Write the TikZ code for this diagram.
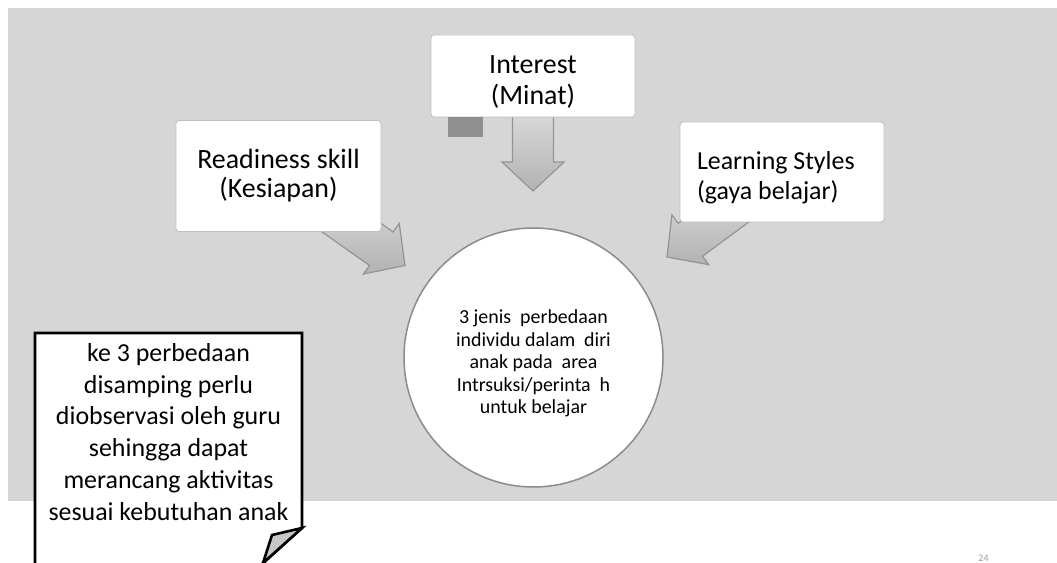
\documentclass[tikz,border=0pt]{standalone}
\usepackage{fontspec}
\setmainfont{Carlito}
\usetikzlibrary{calc,backgrounds}
\definecolor{slidegray}{RGB}{214,214,214}
\definecolor{markgray}{RGB}{143,143,143}

\tikzset{
  topic/.style={draw=black!25, line width=0.8bp, fill=white, rounded corners=3bp, inner sep=0pt, align=center},
  arrowfill/.style={draw=black!42, line width=1.2bp, top color=black!8, bottom color=black!30},
  hub/.style={circle, draw=black!45, line width=1.5bp, fill=white, minimum size=259bp, inner sep=0pt},
  noteline/.style={draw=black, line width=2.6bp, line join=miter},
}

% block arrow from #1 to the tip #2
\newcommand{\feedarrow}[2]{%
  \coordinate (neck) at ($(#2)!29bp!(#1)$);
  \draw[arrowfill] ($(#1)!20.5bp!90:(#2)$) -- ($(neck)!20.5bp!90:(#2)$)
    -- ($(neck)!31bp!90:(#2)$) -- (#2) -- ($(neck)!31bp!-90:(#2)$)
    -- ($(neck)!20.5bp!-90:(#2)$) -- ($(#1)!20.5bp!-90:(#2)$) -- cycle;}

\begin{document}
\begin{tikzpicture}[line join=bevel]
\useasboundingbox (0bp,0bp) rectangle (1057bp,563bp);
\clip (0bp,0bp) rectangle (1057bp,563bp);
%%
\node (interest) at (533bp,487bp) [topic, minimum width=204bp, minimum height=82bp] {};
  \node (interestlabel) at (533bp,481bp) [align=center, font=\fontsize{28}{32}\selectfont] {Interest\\(Minat)};
  \node (readiness) at (278.5bp,387bp) [topic, minimum width=205bp, minimum height=111bp, font=\fontsize{28}{29}\selectfont] {Readiness skill\\(Kesiapan)};
  \node (styles) at (782bp,391bp) [topic, minimum width=204bp, minimum height=100bp] {};
  \node (styleslabel) at (782bp,385bp) [text width=170bp, align=flush left, font=\fontsize{26}{30}\selectfont] {Learning Styles\\(gaya belajar)};
  \node (interestmark) at (465.5bp,436bp) [fill=markgray, minimum width=35bp, minimum height=20bp, inner sep=0pt] {};
  \node (hub) at (533.5bp,205.5bp) [hub] {};
  \node (hublabel) at (533.5bp,199.5bp) [align=center, font=\fontsize{20}{22.5}\selectfont] {3 jenis\ \ perbedaan\\individu dalam\ \ diri\\anak pada\ \ area\\Intrsuksi/perinta\ \ h\\untuk belajar};
  \coordinate (interesttip) at (533bp,372bp);
  \coordinate (readinesstip) at (405bp,297.5bp);
  \coordinate (stylestip) at (667bp,306bp);
\begin{scope}[on background layer]
  \fill[slidegray] (8bp,62bp) rectangle (1057bp,555bp);
  \feedarrow{interest.center}{interesttip}
  \feedarrow{readiness.center}{readinesstip}
  \feedarrow{styles.center}{stylestip}
\end{scope}
%
\draw[noteline, fill=white] (261bp,-2bp) -- (302bp,35bp) -- (302bp,230bp) -- (35bp,230bp) -- (35bp,-2bp);
  \filldraw[noteline, fill=black!22] (302bp,35bp) -- (272bp,28bp) -- (263bp,0bp) -- cycle;
  \node (note) at (168.5bp,131bp) [align=center, font=\fontsize{26}{32}\selectfont] {ke 3 perbedaan\\disamping perlu\\diobservasi oleh guru\\sehingga dapat\\merancang aktivitas\\sesuai kebutuhan anak};
  \node (pagenum) at (983.5bp,1.5bp) [anchor=base, inner sep=0pt, text=black!40, font=\fontsize{10}{12}\selectfont] {24};
%
\end{tikzpicture}
\end{document}
